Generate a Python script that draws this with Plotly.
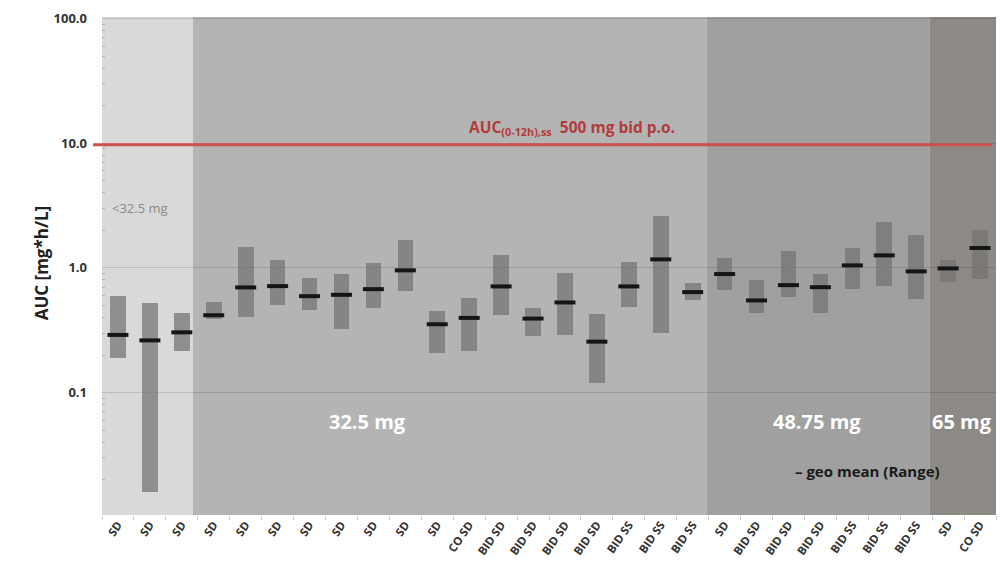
import math
import plotly.graph_objects as go

# ---------------- data ----------------
categories = ["SD", "SD", "SD",
              "SD", "SD", "SD", "SD", "SD", "SD", "SD", "SD",
              "CO SD", "BID SD", "BID SD", "BID SD", "BID SD",
              "BID SS", "BID SS", "BID SS",
              "SD", "BID SD", "BID SD", "BID SD", "BID SS", "BID SS", "BID SS",
              "SD", "CO SD"]
geo_mean = [0.29, 0.262, 0.304,
            0.417, 0.697, 0.714, 0.593, 0.608, 0.675, 0.955, 0.353,
            0.397, 0.710, 0.392, 0.528, 0.256, 0.710, 1.17, 0.639,
            0.892, 0.548, 0.727, 0.700, 1.047, 1.26, 0.937,
            0.99, 1.444]
range_low = [0.189, 0.0159, 0.214,
             0.390, 0.407, 0.506, 0.461, 0.322, 0.475, 0.651, 0.209,
             0.217, 0.415, 0.286, 0.290, 0.120, 0.484, 0.299, 0.548,
             0.668, 0.438, 0.582, 0.433, 0.675, 0.710, 0.568,
             0.769, 0.813]
range_high = [0.593, 0.521, 0.433,
              0.531, 1.47, 1.149, 0.834, 0.898, 1.101, 1.686, 0.447,
              0.572, 1.277, 0.478, 0.908, 0.428, 1.113, 2.596, 0.750,
              1.208, 0.804, 1.365, 0.898, 1.454, 2.323, 1.827,
              1.164, 2.003]

# dose groups: label, category boundaries, colour
dose_labels = ["<32.5 mg", "32.5 mg", "48.75 mg", "65 mg"]
dose_bounds = [-0.5, 2.35, 18.45, 25.43, 27.5]
dose_colors = ["#d9d9d9", "#b4b4b4", "#a0a0a0", "#8d8a86"]

ref_auc = 9.7  # AUC(0-12h),ss 500 mg bid p.o.

y_tickvals = [100, 10, 1, 0.1]
y_ticktext = ["100.0", "10.0", "1.0", "0.1"]
minor_decades = [0.01, 0.1, 1, 10]
minor_digits = [2, 3, 4, 5, 6, 7, 8, 9]

# ---------------- figure ----------------
x = list(range(len(categories)))
fig = go.Figure()

fig.add_trace(go.Bar(
    x=x, base=range_low,
    y=[h - l for h, l in zip(range_high, range_low)],
    width=0.49, marker=dict(color="rgba(115,115,115,0.73)", line=dict(width=0)),
    showlegend=False, hoverinfo="skip"))

fig.add_trace(go.Scatter(
    x=x, y=geo_mean, mode="markers",
    marker=dict(symbol="line-ew", size=15,
                line=dict(width=4, color="#151515")),
    showlegend=False))

# dose-group backgrounds
for i in range(len(dose_labels)):
    fig.add_shape(type="rect", xref="x", yref="paper",
                  x0=dose_bounds[i], x1=dose_bounds[i + 1], y0=0, y1=1,
                  fillcolor=dose_colors[i], line=dict(width=0), layer="below")

# reference line
fig.add_shape(type="line", xref="paper", yref="y",
              x0=-0.01, x1=0.995, y0=ref_auc, y1=ref_auc,
              line=dict(color="#d0504e", width=3), layer="above")

font_main = "Open Sans, Lato, Arial, sans-serif"

ann = []
ann.append(dict(text="<b>AUC<sub>(0-12h),ss</sub>  500 mg bid p.o.</b>",
                x=14.22, y=math.log10(ref_auc) + 0.14, xref="x", yref="y",
                showarrow=False, font=dict(size=15.5, color="#b23c3b", family=font_main)))
ann.append(dict(text=dose_labels[0], x=-0.25, y=math.log10(3.0), xref="x", yref="y",
                xanchor="left", showarrow=False,
                font=dict(size=13, color="#8a8a8a", family=font_main)))
for lbl, xc in zip(dose_labels[1:], [7.83, 21.89, 26.45]):
    ann.append(dict(text="<b>" + lbl + "</b>", x=xc, y=-1.235, xref="x", yref="y",
                    showarrow=False, font=dict(size=20, color="white", family=font_main)))
ann.append(dict(text="<b>– geo mean (Range)</b>", x=23.46, y=-1.63, xref="x", yref="y",
                showarrow=False, font=dict(size=15, color="#1a1a1a", family=font_main)))
ann.append(dict(text="<b>AUC [mg*h/L]</b>", x=-0.083, y=0.506, xref="paper", yref="paper",
                textangle=-90, showarrow=False,
                font=dict(size=17, color="#222", family=font_main)))

fig.update_layout(
    width=1000, height=572,
    margin=dict(l=102, r=4, t=17, b=57),
    paper_bgcolor="white", plot_bgcolor="white",
    bargap=0, showlegend=False,
    annotations=ann,
    xaxis=dict(range=[-0.5, 27.5], tickmode="array", tickvals=x, ticktext=categories,
               tickangle=-55, showgrid=False, zeroline=False, showline=False,
               ticks="", tickfont=dict(size=11.5, color="#333", family=font_main, weight="bold"),
               minor=dict(tick0=0.5, dtick=1, ticks="outside", ticklen=4,
                          tickcolor="#cccccc", showgrid=False)),
    yaxis=dict(type="log", range=[-1.982, 2.012], tickmode="array", tickvals=y_tickvals,
               ticktext=y_ticktext, showgrid=True, gridcolor="rgba(0,0,0,0.13)", gridwidth=1,
               zeroline=False, showline=False, ticks="", ticklabelstandoff=14,
               tickfont=dict(size=13, color="#333", family=font_main, weight="bold"),
               minor=dict(ticks="inside", ticklen=3, tickcolor="#b5b5b5", showgrid=False,
                          tickmode="array",
                          tickvals=[d * m for d in minor_decades for m in minor_digits])),
)

fig.write_html("out.html")
